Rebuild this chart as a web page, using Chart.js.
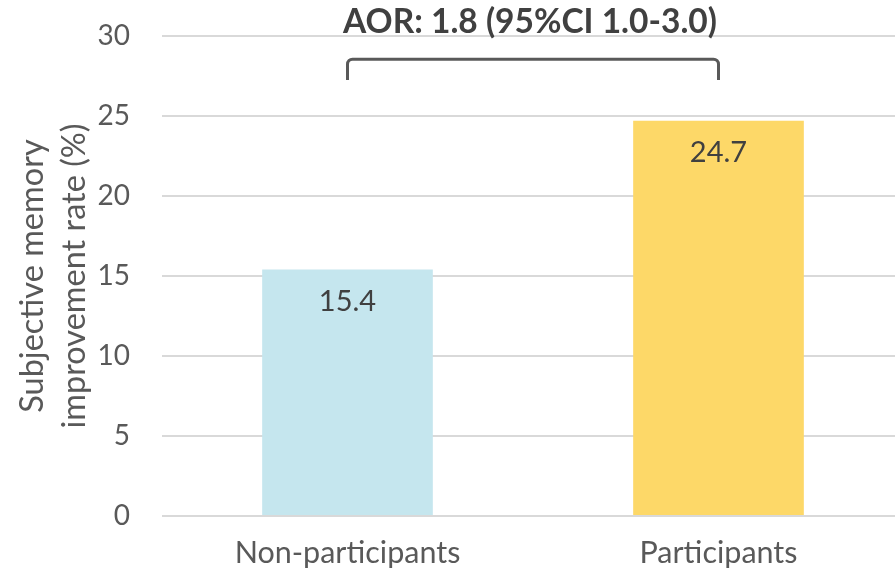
<!DOCTYPE html>
<html>
<head>
<meta charset="utf-8">
<script src="https://cdn.jsdelivr.net/npm/chart.js@4.4.1/dist/chart.umd.min.js"></script>
<style>
  html, body { margin: 0; padding: 0; background: #fff; overflow: hidden; }
  #wrap { width: 895px; height: 573px; overflow: hidden; }
</style>
</head>
<body>
<div id="wrap"><canvas id="c" width="904" height="573"></canvas></div>
<script>
// Chart data
const categories = ['Non-participants', 'Participants'];
const rates = [15.4, 24.7];
const barColors = ['#C5E6EE', '#FDD868'];
const yTicks = [0, 5, 10, 15, 20, 25, 30];
const axisTitle = ['Subjective memory', 'improvement rate (%)'];
const comparisonLabel = 'AOR: 1.8 (95%CI 1.0-3.0)';
const bracketTop = 28.55;   // y value of the bracket's horizontal bar
const bracketEnd = 27.25;   // y value where the bracket legs stop

const FONT = 'Lato, "Open Sans", "Liberation Sans", sans-serif';
const GREY = '#595959';

// Value printed inside the top of each bar
const valueLabels = {
  id: 'valueLabels',
  afterDatasetsDraw(chart) {
    const ctx = chart.ctx;
    const meta = chart.getDatasetMeta(0);
    ctx.save();
    ctx.font = `29px ${FONT}`;
    ctx.fillStyle = '#404040';
    ctx.textAlign = 'center';
    ctx.textBaseline = 'middle';
    meta.data.forEach((bar, i) => {
      ctx.fillText(rates[i].toFixed(1), bar.x, bar.y + 32);
    });
    ctx.restore();
  }
};

// Bracket joining the two groups, with the adjusted odds ratio above it
const comparison = {
  id: 'comparison',
  afterDraw(chart) {
    const ctx = chart.ctx;
    const xs = chart.scales.x, ys = chart.scales.y;
    const x0 = xs.getPixelForValue(0), x1 = xs.getPixelForValue(1);
    const yT = ys.getPixelForValue(bracketTop), yB = ys.getPixelForValue(bracketEnd);
    const r = 5;
    ctx.save();
    ctx.strokeStyle = GREY;
    ctx.lineWidth = 3;
    ctx.lineJoin = 'round';
    ctx.beginPath();
    ctx.moveTo(x0, yB);
    ctx.lineTo(x0, yT + r);
    ctx.arcTo(x0, yT, x0 + r, yT, r);
    ctx.lineTo(x1 - r, yT);
    ctx.arcTo(x1, yT, x1, yT + r, r);
    ctx.lineTo(x1, yB);
    ctx.stroke();

    ctx.font = `bold 33.5px ${FONT}`;
    ctx.fillStyle = '#404040';
    ctx.textAlign = 'center';
    ctx.textBaseline = 'alphabetic';
    ctx.fillText(comparisonLabel, (x0 + x1) / 2 - 3, ys.getPixelForValue(30) - 3);
    ctx.restore();
  }
};

new Chart(document.getElementById('c'), {
  type: 'bar',
  data: {
    labels: categories,
    datasets: [{
      data: rates,
      backgroundColor: barColors,
      borderWidth: 0,
      barPercentage: 0.46,
      categoryPercentage: 1
    }]
  },
  options: {
    responsive: false,
    animation: false,
    events: [],
    layout: { padding: { top: 36, right: 0, bottom: 0, left: 0 } },
    plugins: {
      legend: { display: false },
      tooltip: { enabled: false },
      title: { display: false }
    },
    scales: {
      x: {
        grid: { display: false, drawTicks: false },
        border: { display: false },
        ticks: {
          color: GREY,
          font: { family: FONT, size: 30.5 },
          padding: 19,
          maxRotation: 0
        },
        afterFit(s) { s.height = 57; }
      },
      y: {
        min: 0,
        max: 30,
        afterBuildTicks(s) { s.ticks = yTicks.map(v => ({ value: v })); },
        grid: { color: '#D9D9D9', lineWidth: 2, drawTicks: false },
        border: { display: false },
        ticks: {
          color: GREY,
          font: { family: FONT, size: 28 },
          padding: 32
        },
        title: {
          display: true,
          text: axisTitle,
          color: GREY,
          font: { family: FONT, size: 32.5, lineHeight: 1.29 },
          padding: { top: 12, bottom: 0 }
        },
        afterFit(s) {
          s.width = 162;
          s.paddingTop = 0;
          s.paddingBottom = 0;
        }
      }
    }
  },
  plugins: [valueLabels, comparison]
});
</script>
</body>
</html>
